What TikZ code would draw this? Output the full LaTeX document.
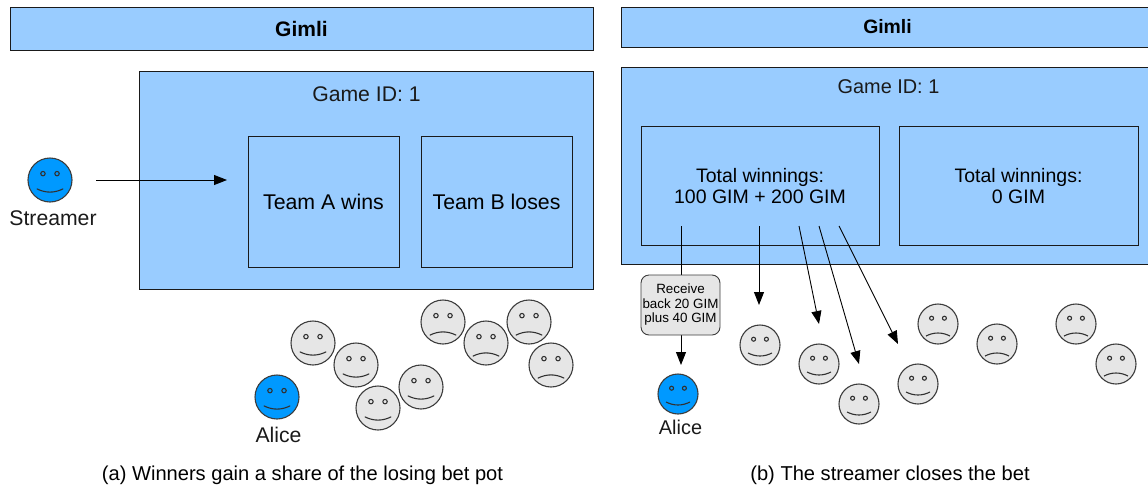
\documentclass[tikz,border=0pt]{standalone}
\usepackage{fontspec}
\setmainfont{Liberation Sans}
\usetikzlibrary{arrows.meta}
\definecolor{panelblue}{HTML}{99CCFF}
\definecolor{faceblue}{HTML}{0099FF}
\definecolor{facegray}{HTML}{E6E6E6}
\definecolor{ink}{HTML}{1A1A1A}
\tikzset{
  panel/.style={draw=ink,line width=0.9pt,fill=panelblue,rectangle,inner sep=0pt,align=center,font=\fontsize{21.3}{23}\selectfont},
  panelR/.style={panel,font=\fontsize{19.5}{21}\selectfont},
  headbar/.style={panel,font=\fontsize{21}{23}\selectfont\bfseries},
  headbarR/.style={panel,font=\fontsize{19.4}{21}\selectfont\bfseries},
  facecircle/.style={circle,draw=ink!85,line width=1.1pt,inner sep=0pt,fill=#1},
  facepart/.style={draw=ink!90,line width=1.1pt},
  lbl/.style={inner sep=0pt,font=\fontsize{21.2}{23}\selectfont,text=ink},
  lblR/.style={inner sep=0pt,font=\fontsize{19.9}{21}\selectfont,text=ink},
  captext/.style={inner sep=0pt,font=\fontsize{20.1}{22}\selectfont,text=black},
  arr/.style={draw=black,line width=0.9pt,-{Triangle[length=13pt,width=10pt]}},
  note/.style={draw=ink!85,line width=0.9pt,fill=facegray,rounded corners=8pt,inner sep=0pt,align=center,font=\fontsize{13.4}{14.5}\selectfont}
}
% name, x, y, radius, fill, mouth bend (+ happy / - sad)
\newcommand{\smiley}[6]{%
  \node[facecircle=#5,minimum size=#4*2pt] (#1) at (#2,#3) {};
  \draw[facepart,fill=none] (#2-#4*0.32,#3-#4*0.29) circle[radius=#4*0.10];
  \draw[facepart,fill=none] (#2+#4*0.32,#3-#4*0.29) circle[radius=#4*0.10];
  \draw[facepart] (#2-#4*0.60,#3+#4*0.50-#6*#4*0.10)
     .. controls (#2-#4*0.2,#3+#4*0.50+#6*#4*0.10) and (#2+#4*0.2,#3+#4*0.50+#6*#4*0.10)
     .. (#2+#4*0.60,#3+#4*0.50-#6*#4*0.10);
}
\newcommand{\boxnode}[7]{% style,name,x1,y1,x2,y2,text
  \node[#1,minimum width=#5pt-#3pt,minimum height=#6pt-#4pt] (#2) at ({(#3+#5)/2},{(#4+#6)/2}) {#7};
}
\begin{document}
\begin{tikzpicture}[x=1pt,y=-1pt]
\useasboundingbox (0,0) rectangle (1148,488);
% left
\boxnode{headbar}{gimliA}{10}{7}{593}{50}{Gimli}
\boxnode{panel}{gameA}{139}{71.5}{593}{289}{}
\node[lbl] (gameAlbl) at (366.5,94) {Game ID: 1};
\boxnode{panel}{teamA}{248}{136.5}{399}{267}{Team A wins}
\boxnode{panel}{teamB}{421}{136.5}{572}{267}{Team B loses}
\smiley{streamer}{50}{180}{22}{faceblue}{1}
\node[lbl] (streamerlbl) at (53,218) {Streamer};
\coordinate (sFrom) at (96,180);
\coordinate (sTo) at (227,180);
\draw[arr] (sFrom) -- (sTo);
\smiley{a1}{313}{343}{22}{facegray}{1}
\smiley{a2}{356}{365}{22}{facegray}{1}
\smiley{a3}{378}{408}{22}{facegray}{1}
\smiley{a4}{421}{387}{22}{facegray}{1}
\smiley{aliceA}{277}{397}{22}{faceblue}{1}
\node[lbl] (aliceAlbl) at (278.5,435) {Alice};
\smiley{s1}{443}{322}{22}{facegray}{-1}
\smiley{s2}{486}{343}{22}{facegray}{-1}
\smiley{s3}{529}{322}{22}{facegray}{-1}
\smiley{s4}{551}{365}{22}{facegray}{-1}
\node[captext] (capA) at (302.5,475) {(a) Winners gain a share of the losing bet pot};
% right
\boxnode{headbarR}{gimliB}{621}{7}{1149}{47}{\hspace*{5pt}Gimli}
\boxnode{panelR}{gameB}{621}{67}{1149}{264}{}
\node[lblR] (gameBlbl) at (888.5,87) {Game ID: 1};
\boxnode{panelR}{totalA}{641}{126.5}{879}{245.5}{Total winnings:\\100 GIM + 200 GIM}
\boxnode{panelR}{totalB}{899}{126.5}{1138}{245.5}{Total winnings:\\0 GIM}
\smiley{b1}{760}{345}{20}{facegray}{1}
\smiley{b2}{819}{364}{20}{facegray}{1}
\smiley{b3}{859}{404}{20}{facegray}{1}
\smiley{b4}{918}{384}{20}{facegray}{1}
\smiley{aliceB}{678}{394}{20}{faceblue}{1}
\node[lblR] (aliceBlbl) at (680.5,427) {Alice};
\smiley{t1}{938}{324}{20}{facegray}{-1}
\smiley{t2}{997}{344}{20}{facegray}{-1}
\smiley{t3}{1076}{324}{20}{facegray}{-1}
\smiley{t4}{1116}{364}{20}{facegray}{-1}
\coordinate (o0) at (681,226);
\coordinate (o1) at (759,226);
\coordinate (o2) at (799,226);
\coordinate (o3) at (819,226);
\coordinate (o4) at (839,226);
\coordinate (e0) at (681,365);
\coordinate (e1) at (759,305);
\coordinate (e2) at (819,324);
\coordinate (e3) at (859,364);
\coordinate (e4) at (898,344);
\draw[arr] (o0) -- (e0);
\draw[arr] (o1) -- (e1);
\draw[arr] (o2) -- (e2);
\draw[arr] (o3) -- (e3);
\draw[arr] (o4) -- (e4);
\boxnode{note}{receive}{641}{275}{720}{335}{Receive\\back 20 GIM\\plus 40 GIM}
\node[captext] (capB) at (890,475) {(b) The streamer closes the bet};
\end{tikzpicture}
\end{document}
